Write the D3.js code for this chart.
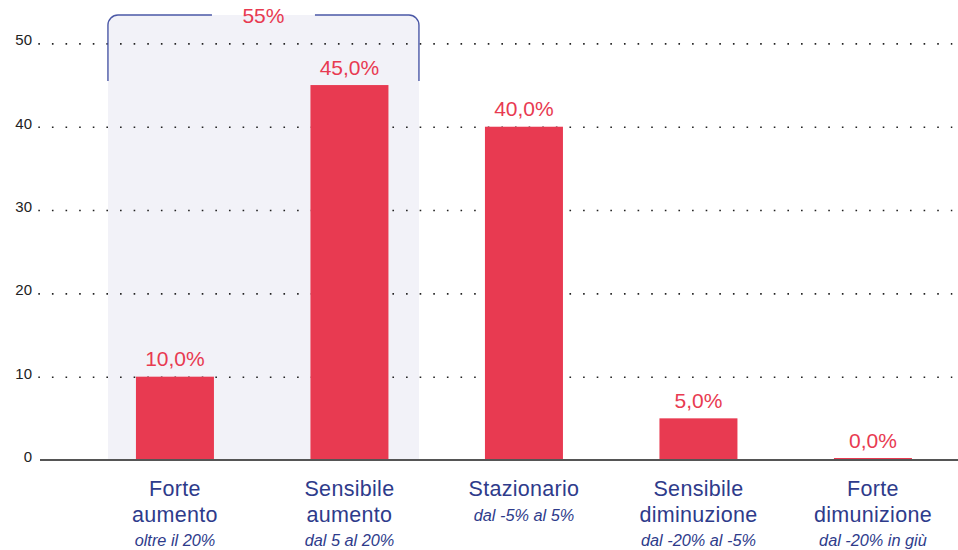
<!DOCTYPE html>
<html lang="it">
<head>
<meta charset="utf-8">
<script src="https://cdn.jsdelivr.net/npm/d3@7"></script>
<style>
  html, body { margin: 0; padding: 0; background: #fff; }
  svg { display: block; font-family: "Liberation Sans", Arial, Helvetica, sans-serif; }
</style>
</head>
<body>
<svg id="chart" width="958" height="550"></svg>
<script>
// Expected change, share of respondents (%)
const categories = ["forte-aumento", "sensibile-aumento", "stazionario", "sensibile-diminuzione", "forte-diminuzione"];
const categoryLines = [["Forte", "aumento"], ["Sensibile", "aumento"], ["Stazionario"], ["Sensibile", "diminuzione"], ["Forte", "dimunizione"]];
const categoryRanges = ["oltre il 20%", "dal 5 al 20%", "dal -5% al 5%", "dal -20% al -5%", "dal -20% in giù"];
const values = [10.0, 45.0, 40.0, 5.0, 0.0];
const yTicks = [0, 10, 20, 30, 40, 50];
// Grouped total shown above the first two categories
const groupIndex = [0, 1];
const groupLabel = "55%";

const fmt = v => v.toFixed(1).replace(".", ",") + "%";

const RED = "#e83a51";
const BLUE = "#2e3b8b";
const BRACE = "#4b58a6";

const svg = d3.select("#chart");

const x = d3.scaleBand()
  .domain(categories)
  .range([87.7, 960.2])
  .paddingInner(0.553)
  .paddingOuter(0.2765);

const y = d3.scaleLinear()
  .domain([0, 50])
  .range([460, 43.4]);

const bw = x.bandwidth();

// Highlight panel and brace around the grouped categories
const gx0 = x(categories[groupIndex[0]]) - 28;
const gx1 = x(categories[groupIndex[1]]) + bw + 30.5;
const gTop = 15, gBraceEnd = 81, r = 10;

const panel = d3.path();
panel.moveTo(gx0, y(0));
panel.lineTo(gx0, gTop + r);
panel.arcTo(gx0, gTop, gx0 + r, gTop, r);
panel.lineTo(gx1 - r, gTop);
panel.arcTo(gx1, gTop, gx1, gTop + r, r);
panel.lineTo(gx1, y(0));
panel.closePath();
svg.append("path").attr("d", panel.toString()).attr("fill", "#f2f2f8");

// Dotted gridlines
const grid = svg.append("g").attr("transform", "translate(38.3,0)")
  .call(d3.axisLeft(y).tickValues(yTicks.filter(t => t > 0)).tickSize(-914).tickFormat(""));
grid.select(".domain").remove();
grid.selectAll(".tick line")
  .attr("stroke", "#222")
  .attr("stroke-width", 1.6)
  .attr("stroke-dasharray", "1.6 12.02");

// Y tick labels
const yAxis = svg.append("g").attr("transform", "translate(32,0)")
  .call(d3.axisLeft(y).tickValues(yTicks).tickSize(0).tickPadding(0));
yAxis.select(".domain").remove();
yAxis.selectAll(".tick text")
  .attr("font-size", 15)
  .attr("fill", "#222")
  .attr("dy", "0.1em")
  .attr("font-family", "'Liberation Sans', Arial, sans-serif");

// Brace
const gMid = (gx0 + gx1) / 2;
const gap = 51.5;
const brace = d3.path();
brace.moveTo(gx0, gBraceEnd);
brace.lineTo(gx0, gTop + r);
brace.arcTo(gx0, gTop, gx0 + r, gTop, r);
brace.lineTo(gMid - gap, gTop);
brace.moveTo(gMid + gap, gTop);
brace.lineTo(gx1 - r, gTop);
brace.arcTo(gx1, gTop, gx1, gTop + r, r);
brace.lineTo(gx1, gBraceEnd);
svg.append("path").attr("d", brace.toString())
  .attr("fill", "none").attr("stroke", BRACE).attr("stroke-width", 1.4);

svg.append("text")
  .attr("x", gMid).attr("y", 23)
  .attr("text-anchor", "middle")
  .attr("font-size", 21)
  .attr("fill", RED)
  .text(groupLabel);

// Bars (zero values keep a thin visible stub)
svg.append("g").selectAll("rect")
  .data(values)
  .join("rect")
  .attr("x", (d, i) => x(categories[i]))
  .attr("width", bw)
  .attr("y", d => Math.min(y(d), y(0) - 2))
  .attr("height", d => Math.max(y(0) - y(d), 2))
  .attr("fill", RED);

// Value labels
svg.append("g").selectAll("text")
  .data(values)
  .join("text")
  .attr("x", (d, i) => x(categories[i]) + bw / 2)
  .attr("y", d => Math.min(y(d), y(0) - 2) - 10.5)
  .attr("text-anchor", "middle")
  .attr("font-size", 21)
  .attr("fill", RED)
  .text(fmt);

// Baseline
svg.append("line")
  .attr("x1", 40).attr("x2", 958)
  .attr("y1", y(0)).attr("y2", y(0))
  .attr("stroke", "#555").attr("stroke-width", 2);

// Category labels
const cat = svg.append("g").selectAll("g")
  .data(categories)
  .join("g")
  .attr("transform", d => `translate(${x(d) + bw / 2},0)`);

cat.each(function (d, i) {
  const g = d3.select(this);
  const lines = categoryLines[i];
  lines.forEach((t, j) => {
    g.append("text")
      .attr("y", 496 + j * 25.5)
      .attr("text-anchor", "middle")
      .attr("font-size", 21.5)
      .attr("letter-spacing", 0.3)
      .attr("fill", BLUE)
      .text(t);
  });
  g.append("text")
    .attr("y", 496 + lines.length * 25)
    .attr("text-anchor", "middle")
    .attr("font-size", 16.3)
    .attr("font-style", "italic")
    .attr("fill", BLUE)
    .text(categoryRanges[i]);
});
</script>
</body>
</html>
